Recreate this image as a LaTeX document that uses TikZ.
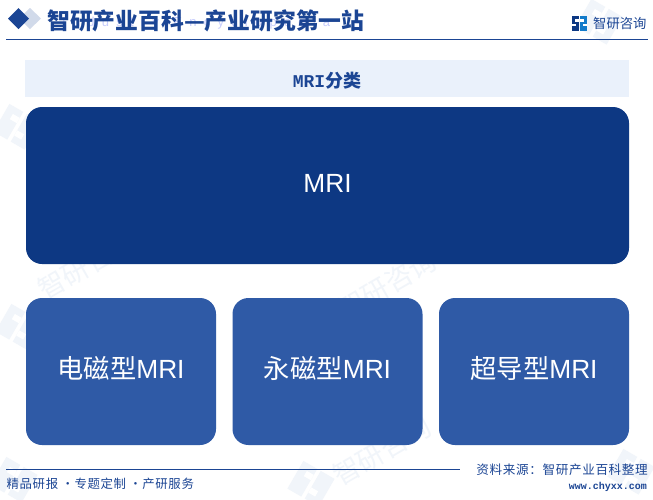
\documentclass[tikz,border=0pt]{standalone}
\usepackage{fontspec}
\setmainfont{Liberation Sans}
\newfontfamily\cjk{Noto Sans CJK SC}
\newfontfamily\cjkwide[LetterSpace=5]{Noto Sans CJK SC}
\newfontfamily\monobold{Liberation Mono Bold}
\definecolor{headblue}{HTML}{1B4594}
\definecolor{darkblue}{HTML}{0D3883}
\definecolor{midblue}{HTML}{2F5AA6}
\definecolor{bandblue}{HTML}{EAF1FB}
\definecolor{markblue}{HTML}{F1F5FA}
\tikzset{
  topbox/.style={fill=darkblue, rounded corners=16pt, minimum width=603pt, minimum height=157pt, text=white, inner sep=0pt, text height=20pt, text depth=6.2pt, font=\fontsize{26.3}{30}\selectfont},
  typebox/.style={fill=midblue, rounded corners=16pt, minimum width=190pt, minimum height=147pt, text=white, inner sep=0pt, text height=20pt, text depth=6.2pt, font=\fontsize{26.3}{30}\selectfont},
  bluetext/.style={text=headblue, inner sep=0pt},
  marktext/.style={text=markblue, inner sep=0pt, anchor=west, rotate=30, font=\cjk\fontsize{27}{30}\selectfont}
}
\begin{document}
\begin{tikzpicture}[x=1pt, y=-1pt]
    \useasboundingbox (0, 0) rectangle (653, 499);
    \fill[white] (0, 0) rectangle (653, 499);
    % watermark
    \foreach \px/\py in {40/292, 340/312, 335/478} {
      \node[marktext] at (\px, \py) {智研咨询};
    }
    \foreach \px/\py in {18/125, 20/325, 312/482, 632/470, 15/478, 600/20} {
      \begin{scope}[shift={(\px, \py)}, rotate=-30]
        \fill[markblue] (-18, -14) rectangle (-2, 18);
        \fill[markblue] (2, -14) rectangle (18, 18);
        \fill[white] (-10, -7) rectangle (-2, -1);
        \fill[white] (2, 5) rectangle (10, 11);
      \end{scope}
    }
    % header
    \fill[headblue!20] (30, 8)--(41, 18.5)--(30, 29)--(19, 18.5)--cycle;
    \fill[headblue] (18.5, 8)--(29, 18.5)--(18.5, 29)--(8, 18.5)--cycle;
    \node[anchor=west, inner sep=0pt, text=bandblue!85!blue, font=\fontsize{13}{15}\selectfont] (motto) at (62, 23.5) {I\ \ n\ \ d\ \ u\ \ s\ \ t\ \ r\ \ y\ \ \ \ E\ \ n\ \ c\ \ y\ \ c\ \ l\ \ o\ \ p\ \ e\ \ d\ \ i\ \ a};
    \node[bluetext, anchor=west, font=\cjk\bfseries\fontsize{22.8}{26}\selectfont] (title) at (47, 20.5) {智研产业百科—产业研究第一站};
    \fill[darkblue] (572, 16) rectangle (579, 31);
    \fill[white] (575, 19) rectangle (579, 21.5);
    \fill[white] (572, 23.5) rectangle (576, 25.5);
    \fill[cyan!60!blue] (580, 16) rectangle (587, 31);
    \fill[white] (580, 19) rectangle (584, 21.5);
    \fill[white] (583, 23.5) rectangle (587, 25.5);
    \node[bluetext, anchor=west, font=\cjk\fontsize{13.3}{16}\selectfont] (brand) at (593, 23) {智研咨询};
    \draw[headblue, line width=1pt] (6, 39.5)--(648, 39.5);
    % band
    \fill[bandblue] (25, 60) rectangle (629, 97);
    \node[bluetext, font=\fontsize{18}{20}\selectfont] (band) at (327, 80.5) {{\monobold MRI}{\cjk\bfseries 分类}};
    % boxes
    \node[topbox] (mri) at (327.5, 185.5) {MRI};
    \node[typebox] (em) at (121, 371.5) {{\cjk 电磁型}MRI};
    \node[typebox] (perm) at (327.5, 371.5) {{\cjk 永磁型}MRI};
    \node[typebox] (super) at (534, 371.5) {{\cjk 超导型}MRI};
    % footer
    \draw[headblue, line width=1pt] (6, 469)--(460, 469);
    \node[bluetext, anchor=west, font=\cjkwide\fontsize{12.4}{14}\selectfont] (service) at (6.5, 484) {精品研报 ·专题定制 ·产研服务};
    \node[bluetext, anchor=east, font=\cjkwide\fontsize{12.6}{14}\selectfont] (source) at (648, 470) {资料来源：智研产业百科整理};
    \node[bluetext, anchor=east, font=\monobold\fontsize{10}{12}\selectfont] (site) at (647, 487) {www.chyxx.com};
  \end{tikzpicture}
\end{document}
